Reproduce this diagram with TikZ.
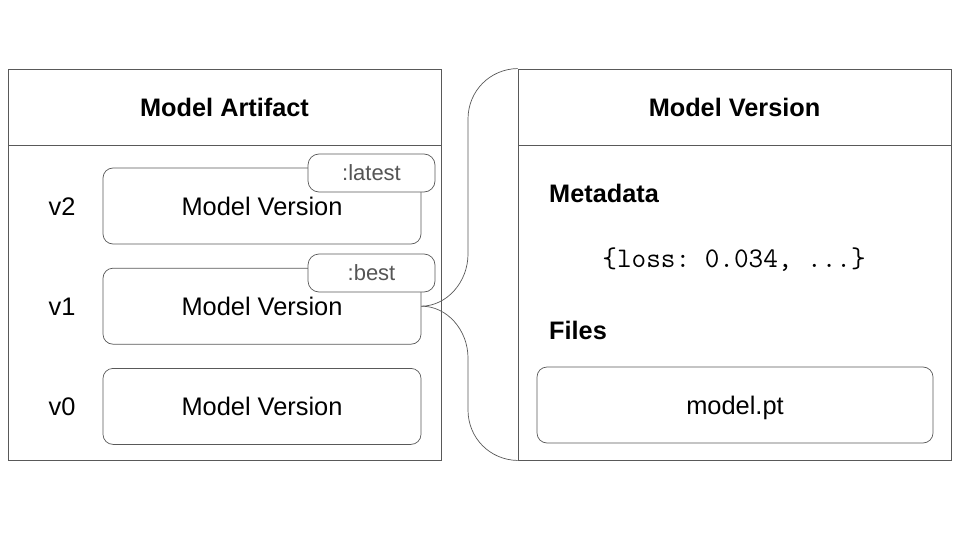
\documentclass[tikz,border=0pt]{standalone}
\usepackage{fontspec}
\setmainfont{Liberation Sans}
\usetikzlibrary{positioning}
\definecolor{linegray}{HTML}{595959}
\definecolor{taggray}{HTML}{555555}

\begin{document}
\begin{tikzpicture}[x=1pt, y=-1pt,
	outer/.style={rectangle, draw=linegray, line width=0.9pt, minimum width=433pt, minimum height=391pt, inner sep=0pt},
	header/.style={rectangle, draw=linegray, line width=0.9pt, minimum width=433pt, minimum height=76pt, inner sep=0pt, font=\fontsize{25.3}{29}\selectfont\bfseries},
	version/.style={rectangle, rounded corners=10pt, draw=linegray, line width=0.7pt, fill=white, minimum width=318pt, minimum height=76pt, inner sep=0pt, text depth=0pt, font=\fontsize{25.4}{29}\selectfont},
	tag/.style={rectangle, rounded corners=11pt, draw=linegray, line width=0.7pt, fill=white, minimum width=127pt, minimum height=38pt, inner sep=0pt, text=taggray, font=\fontsize{22}{26}\selectfont},
	vlabel/.style={font=\fontsize{25.4}{29}\selectfont},
	section/.style={anchor=west, inner sep=0pt, font=\fontsize{25.3}{29}\selectfont\bfseries},
	brace/.style={draw=linegray, line width=0.7pt}]
	\useasboundingbox (0,0) rectangle (960,540);

	% nodes
	\node[outer] (artifact) at (224.5,264.5) {}; %
	\node[header, anchor=north] (arthead) at (artifact.north) {Model Artifact}; %
	\node[outer] (detail) at (734.5,264.5) {}; %
	\node[header, anchor=north] (dethead) at (detail.north) {Model Version}; %

	\node[version] (v2box) at (262,206) {Model Version}; %
	\node[version, below=23.5pt of v2box] (v1box) {Model Version}; %
	\node[version, below=23.5pt of v1box] (v0box) {Model Version}; %
	\node[vlabel] (v2lab) at (62,207) {v2}; %
	\node[vlabel] (v1lab) at (62,307) {v1}; %
	\node[vlabel] (v0lab) at (62,407) {v0}; %
	\node[tag] (latest) at (371.5,173) {:latest}; %
	\node[tag] (best) at (371.5,273) {:best}; %

	\node[section] (meta) at (549,193) {Metadata}; %
	\node[font=\fontsize{28.4}{32}\selectfont\ttfamily\frenchspacing] (loss) at (734,260) {\{loss: 0.034, ...\}}; %
	\node[section] (files) at (549,330) {Files}; %
	\node[version, minimum width=396pt] (modelpt) at (735,405) {model.pt}; %

	% brace
	\draw[brace] (v1box.east) .. controls (447,306) and (468,282) .. (468,254) -- (468,119) .. controls (468,91) and (490,69) .. (detail.north west);
	\draw[brace] (v1box.east) .. controls (447,306) and (468,330) .. (468,358) -- (468,410) .. controls (468,438) and (490,460) .. (detail.south west);
\end{tikzpicture}
\end{document}
